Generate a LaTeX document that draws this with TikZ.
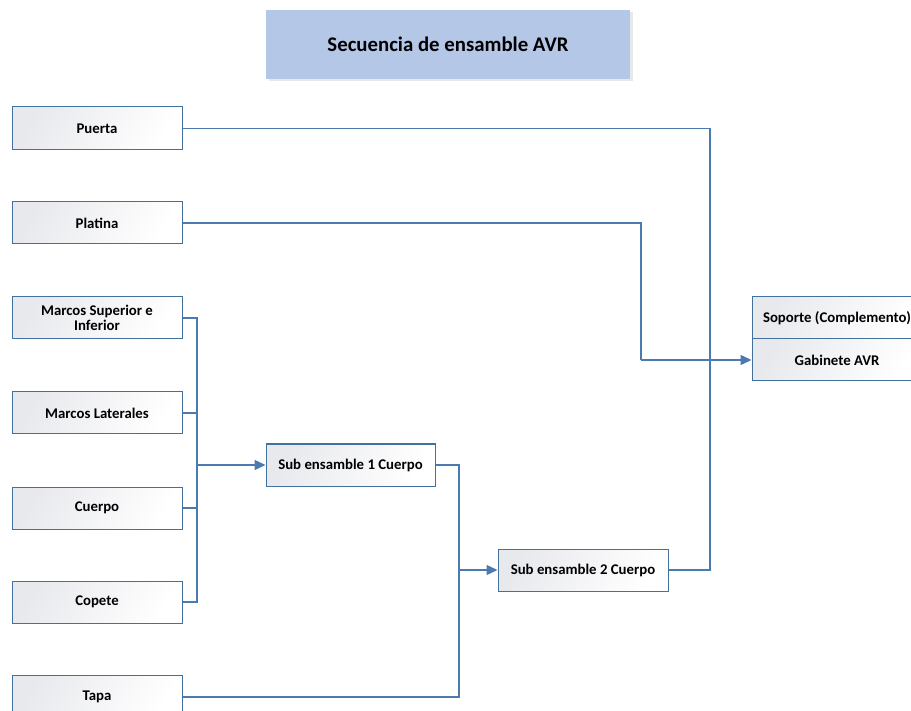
\documentclass[tikz,border=0pt]{standalone}
\usepackage{fontspec}
\setmainfont{Carlito}
\usetikzlibrary{arrows.meta}
\definecolor{boxline}{HTML}{41719C}
\definecolor{linkc}{HTML}{4A7AB0}
\definecolor{titlefill}{HTML}{B4C7E7}
\definecolor{boxgray}{HTML}{E8E9ED}
\tikzset{
  box/.style={draw=boxline, line width=1pt, rectangle, minimum width=170pt, minimum height=42pt,
    inner sep=0pt, align=center, font=\fontsize{14.8}{16}\selectfont\bfseries,
    shading=axis, left color=boxgray, right color=white, shading angle=60},
  titlebox/.style={fill=titlefill, rectangle,
    minimum width=364pt, minimum height=69pt, inner sep=0pt, font=\fontsize{20.8}{23}\selectfont\bfseries},
  link/.style={draw=linkc, line width=1.4pt},
  arrowlink/.style={link, -{Triangle[length=11pt,width=10pt]}},
}
\begin{document}
\begin{tikzpicture}[x=1pt,y=-1pt]
\useasboundingbox (0,0) rectangle (911,711);
\fill[white] (0,0) rectangle (911,711);
% title with faint shadow
\fill[black!9] (268.5,12.5) rectangle (632.5,81.5);
\node[titlebox] (title) at (448,44.5) {Secuencia de ensamble AVR};
% left column
\node[box, minimum height=43pt] (puerta) at (97,128.5) {Puerta};
\node[box] (platina) at (97,223) {Platina};
\node[box] (msup) at (97,318) {Marcos Superior e\\[-1pt]Inferior};
\node[box] (mlat) at (97,413) {Marcos Laterales};
\node[box] (cuerpo) at (97,508) {Cuerpo};
\node[box] (copete) at (97,602) {Copete};
\node[box, minimum height=44pt] (tapa) at (97,697) {Tapa};
% sub assemblies
\node[box, minimum width=169pt] (sub1) at (350.5,465) {Sub ensamble 1 Cuerpo};
\node[box] (sub2) at (583,570) {Sub ensamble 2 Cuerpo};
% right stack
\node[box] (soporte) at (837,318) {Soporte (Complemento)};
\node[box] (gab) at (837,360) {Gabinete AVR};
% junctions
\coordinate (jm) at (197,465);
\coordinate (js) at (459,570);
\coordinate (jp) at (641,360);
\coordinate (jg) at (710,360);
% connectors
\draw[link] (msup.east) -| (jm);
\draw[link] (mlat.east) -| (jm);
\draw[link] (cuerpo.east) -| (jm);
\draw[link] (copete.east) -| (jm);
\draw[arrowlink] (jm) -- (sub1.west);
\draw[link] (sub1.east) -| (js);
\draw[link] (tapa.east) -| (js);
\draw[arrowlink] (js) -- (sub2.west);
\draw[link] (puerta.east) -| (jg);
\draw[link] (sub2.east) -| (jg);
\draw[link] (platina.east) -| (jp);
\draw[arrowlink] (jp) -- (gab.west);
\end{tikzpicture}
\end{document}
